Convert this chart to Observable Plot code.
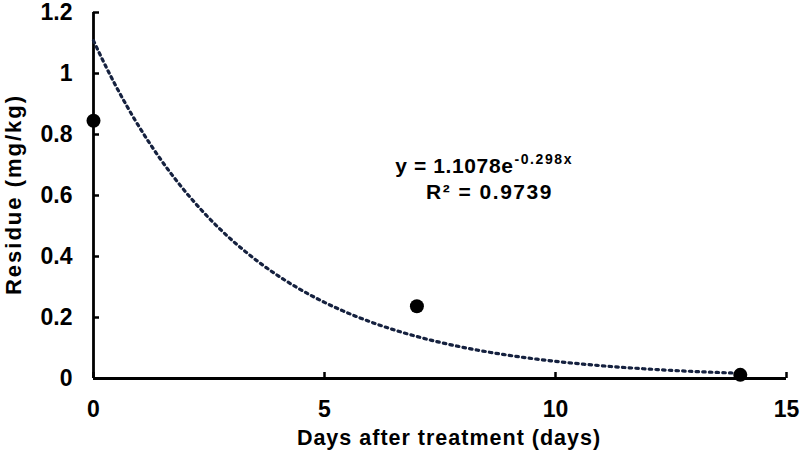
<!DOCTYPE html>
<html>
<head>
<meta charset="utf-8">
<script src="https://cdn.jsdelivr.net/npm/d3@7"></script>
<script src="https://cdn.jsdelivr.net/npm/@observablehq/plot@0.6"></script>
<style>
  html, body { margin: 0; padding: 0; background: #fff; }
  #chart svg { display: block; }
  .eq-main text { letter-spacing: 0.6px; }
  .eq-exp text { letter-spacing: 1.6px; }
  .eq-r2 text { letter-spacing: 1.5px; }
  .title-x text { letter-spacing: 1px; }
  .title-y text { letter-spacing: 2px; }
</style>
</head>
<body>
<div id="chart"></div>
<script>
// Measured residues
const days = [0, 7, 14];
const residues = [0.845, 0.237, 0.012];

// Exponential trendline y = a·e^(b·x) and its fit statistic
const fitA = 1.1078;
const fitB = -0.298;
const fitR2 = 0.9739;

const xTicks = [0, 5, 10, 15];
const yTicks = [0, 0.2, 0.4, 0.6, 0.8, 1, 1.2];
const xTitle = "Days after treatment (days)";
const yTitle = "Residue (mg/kg)";

const points = days.map((d, i) => ({day: d, residue: residues[i]}));
const trend = d3.range(0, 14.0001, 0.1).map(x => ({day: x, residue: fitA * Math.exp(fitB * x)}));

const font = "'Liberation Sans', Arial, sans-serif";
const ink = "#000";

const chart = Plot.plot({
  width: 800,
  height: 464,
  marginLeft: 93,
  marginRight: 14,
  marginTop: 12,
  marginBottom: 86,
  style: {fontFamily: font, fontWeight: "bold", background: "#fff", color: ink},
  x: {domain: [0, 15]},
  y: {domain: [0, 1.2]},
  marks: [
    // inward tick marks
    Plot.axisX({ticks: xTicks, tickSize: 6, dy: -6, text: null, stroke: ink, strokeWidth: 2.5, label: null}),
    Plot.axisY({ticks: yTicks, tickSize: 6, dx: 6, text: null, stroke: ink, strokeWidth: 2.5, label: null}),
    // tick labels
    Plot.axisX({ticks: xTicks, tickSize: 0, tickPadding: 22, fontSize: 23, fill: ink, label: null}),
    Plot.axisY({ticks: yTicks, tickSize: 0, tickPadding: 21, fontSize: 23, fill: ink, label: null,
                tickFormat: d => String(d)}),
    // axis lines
    Plot.ruleX([0], {stroke: ink, strokeWidth: 2.8}),
    Plot.ruleY([0], {stroke: ink, strokeWidth: 2.8}),
    // dotted exponential trendline
    Plot.line(trend, {x: "day", y: "residue", stroke: "#15213f", strokeWidth: 3.2,
                      strokeDasharray: "2.5,4.2"}),
    // observations
    Plot.dot(points, {x: "day", y: "residue", r: 7, fill: ink}),
    // trendline equation
    Plot.text([`y = ${fitA}e`], {x: 9.09, y: 0.695, textAnchor: "end", fontSize: 21, fill: ink,
                                 className: "eq-main"}),
    Plot.text([`${fitB}x`], {x: 9.09, y: 0.695, textAnchor: "start", dy: -7, dx: 1, fontSize: 14, fill: ink,
                             className: "eq-exp"}),
    Plot.text([`R² = ${fitR2}`], {x: 8.57, y: 0.61, fontSize: 21, fill: ink, className: "eq-r2"}),
    // axis titles
    Plot.text([xTitle], {frameAnchor: "bottom", dy: 66, dx: 9, fontSize: 21.5, fill: ink,
                         className: "title-x"}),
    Plot.text([yTitle], {frameAnchor: "left", textAnchor: "middle", rotate: -90, dx: -80, dy: -1,
                         fontSize: 22, fill: ink, className: "title-y"})
  ]
});

document.getElementById("chart").appendChild(chart);
</script>
</body>
</html>
